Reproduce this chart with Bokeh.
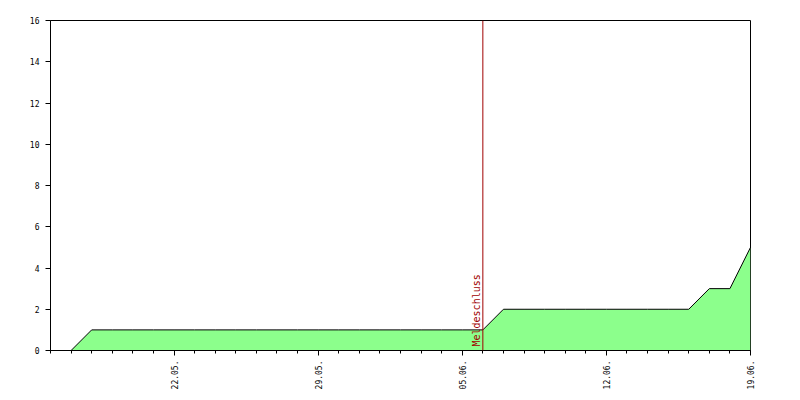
from math import pi

import pandas as pd
from bokeh.core.properties import value
from bokeh.embed import file_html
from bokeh.models import (DatetimeTickFormatter, FixedTicker, Range1d, Span)
from bokeh.plotting import figure
from bokeh.resources import INLINE

# cumulative registrations per day, starting 17.05.
first_day = "2013-05-17"
counts = [0,
          1, 1, 1, 1, 1, 1, 1, 1, 1, 1, 1, 1, 1, 1, 1, 1, 1, 1, 1, 1,
          2, 2, 2, 2, 2, 2, 2, 2, 2, 2,
          3, 3, 5]
days = pd.date_range(first_day, periods=len(counts), freq="D")

x_start, x_end = "2013-05-16", "2013-06-19"
major_days = ["2013-05-22", "2013-05-29", "2013-06-05", "2013-06-12", "2013-06-19"]
deadline = "2013-06-06"
deadline_label = "Meldeschluss"
y_ticks = [0, 2, 4, 6, 8, 10, 12, 14, 16]


def ms(d):
    return pd.Timestamp(d).timestamp() * 1000


p = figure(width=800, height=400, x_axis_type="datetime",
           x_range=Range1d(ms(x_start), ms(x_end)), y_range=Range1d(0, 16),
           output_backend="svg", toolbar_location=None,
           min_border_left=50, min_border_right=50,
           min_border_top=20, min_border_bottom=50)

p.outline_line_color = "black"
p.outline_line_alpha = 1
p.grid.visible = False
p.background_fill_color = "white"
p.border_fill_color = "white"

p.varea(x=days, y1=0, y2=counts, fill_color="#8cff8c")
p.line(days, counts, line_color="black", line_width=1)

p.add_layout(Span(location=ms(deadline), dimension="height",
                  line_color="#a00000", line_width=1))
p.text(x=[pd.Timestamp(deadline)], y=[0], text=[deadline_label], angle=pi / 2,
       text_align="left", text_baseline="middle", y_offset=-4, x_offset=-6,
       text_font=value("DejaVu Sans Mono"), text_font_size="10px",
       text_color="#a00000")

minor = [ms(d) for d in pd.date_range(x_start, x_end, freq="D")]
p.xaxis.ticker = FixedTicker(ticks=[ms(d) for d in major_days], minor_ticks=minor)
p.xaxis.formatter = DatetimeTickFormatter(days="%d.%m.", months="%d.%m.")
p.xaxis.major_label_orientation = pi / 2

p.yaxis.ticker = FixedTicker(ticks=y_ticks)
p.yaxis.minor_tick_line_color = None

for ax in (p.xaxis, p.yaxis):
    ax.axis_line_color = "black"
    ax.major_tick_line_color = "black"
    ax.major_tick_in = 0
    ax.major_tick_out = 5
    ax.major_label_text_font = "DejaVu Sans Mono"
    ax.major_label_text_font_size = "8px"
    ax.major_label_text_color = "black"
p.xaxis.minor_tick_line_color = "black"
p.xaxis.minor_tick_in = 0
p.xaxis.minor_tick_out = 3
p.xaxis.major_label_standoff = 5
p.yaxis.major_label_standoff = 6

open("out.html", "w").write(file_html(p, INLINE))
